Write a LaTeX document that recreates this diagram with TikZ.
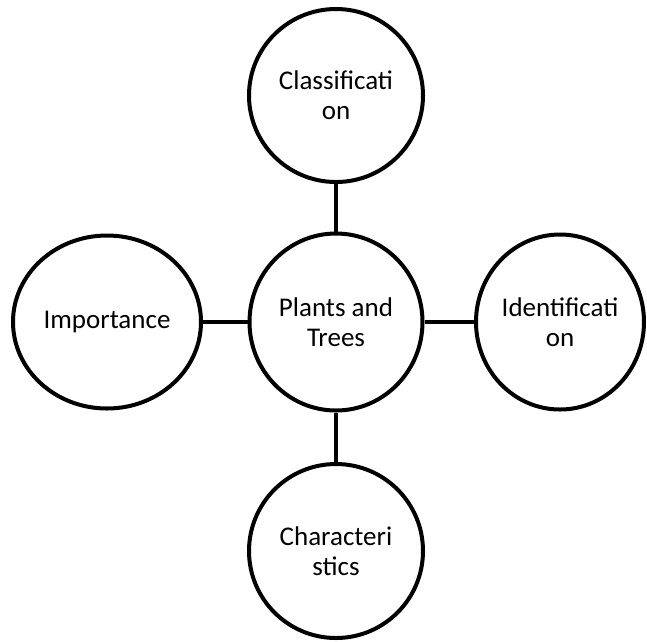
\documentclass[tikz,border=0pt]{standalone}
\usepackage{fontspec}
\setmainfont{Carlito}
\usetikzlibrary{shapes.geometric}
\begin{document}
\begin{tikzpicture}[x=1pt,y=-1pt,
  bubble/.style={draw=black, line width=4pt, ellipse, inner sep=0pt, align=center,
    font=\fontsize{27}{30}\selectfont},
  link/.style={draw=black, line width=4.5pt}]
\useasboundingbox (0,0) rectangle (647,641);
\node[bubble, minimum width=173pt, minimum height=177pt] (mid) at (336,322) {Plants and\\Trees};
\node[bubble, minimum width=174pt, minimum height=173pt] (top) at (336,95.5) {Classificati\\on};
\node[bubble, minimum width=174pt, minimum height=174pt] (bot) at (336,551) {Characteri\\stics};
\node[bubble, minimum width=188pt, minimum height=173pt] (lft) at (107,322) {Importance};
\node[bubble, minimum width=168pt, minimum height=175pt] (rgt) at (560,322) {Identificati\\on};
\draw[link] (top.south) -- (mid.north);
\draw[link] (mid.south) -- (bot.north);
\draw[link] (lft.east) -- (mid.west);
\draw[link] (mid.east) -- (rgt.west);
\end{tikzpicture}
\end{document}
